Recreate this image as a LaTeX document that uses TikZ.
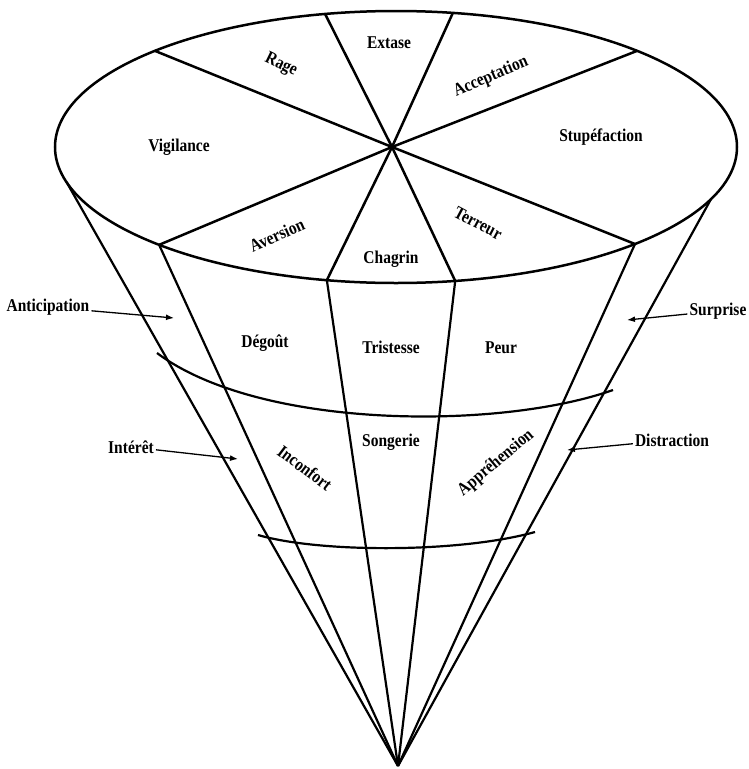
\documentclass[tikz,border=0pt]{standalone}
\usepackage{fontspec}
\setmainfont{Liberation Serif}[FakeStretch=0.86]
\usetikzlibrary{arrows.meta}
\begin{document}
\begin{tikzpicture}[x=1pt,y=-1pt]
  \tikzstyle{every node}=[font=\bfseries\fontsize{18}{18}\selectfont, inner sep=2pt]
  \tikzstyle{rim}=[line width=2.5pt]
  \tikzstyle{cone}=[line width=2.2pt]
  \tikzstyle{pointer}=[-{Latex[length=8pt,width=6pt]}, line width=1.3pt]
  \useasboundingbox (0,0) rectangle (748,769);

  % top of the cone
  \coordinate (o) at (396,147);
  \coordinate (m) at (392,147);
  \coordinate (apex) at (398,766);
  \foreach \n/\a in {ul/225,ur/315,ll/134,lr/45.5,tl/258,tr/279.6,bl/101.7,br/80,oleft/165,oright/22.5}
    \coordinate (\n) at ([shift={(o)}]\a:341 and 136);

  \draw[rim] (o) ellipse [x radius=341, y radius=136];
  \foreach \n in {ul,ur,ll,lr,tl,tr,bl,br}
    \draw[rim] (m) -- (\n);

  % sides and rings
  \foreach \n in {oleft,ll,bl,br,lr,oright}
    \draw[cone] (\n) -- (apex);
  \draw[cone] (157,353) .. controls (260,430) and (500,430) .. (613,390);
  \draw[cone] (258,535) .. controls (320,553) and (460,553) .. (535,532);

  % labels on the top
  \node (extase) at (389,43) {Extase};
  \node[rotate=-26] (rage) at (281,65) {Rage};
  \node[rotate=23] (accept) at (491,77) {Acceptation};
  \node (vigil) at (179,147) {Vigilance};
  \node (stupef) at (601,137) {Stupéfaction};
  \node[rotate=24] (avers) at (277,235) {Aversion};
  \node (chagrin) at (391,259) {Chagrin};
  \node[rotate=-28] (terreur) at (478,223) {Terreur};

  % labels on the sides
  \node (degout) at (265,343) {Dégoût};
  \node (trist) at (391,347) {Tristesse};
  \node (peur) at (501,348) {Peur};
  \node (songerie) at (391,442) {Songerie};
  \node[rotate=-37] (inconf) at (305,468) {Inconfort};
  \node[rotate=40] (apprehen) at (496,463) {Appréhension};

  % outside labels
  \node (antic) at (48,307) {Anticipation};
  \node (surpr) at (718,311) {Surprise};
  \node (interet) at (131,447) {Intérêt};
  \node (distr) at (672,440) {Distraction};
  \coordinate (pa) at (174,318);
  \coordinate (ps) at (627,320);
  \coordinate (pi) at (238,459);
  \coordinate (pd) at (567,450);

  \draw[pointer] (antic) -- (pa);
  \draw[pointer] (surpr) -- (ps);
  \draw[pointer] (interet) -- (pi);
  \draw[pointer] (distr) -- (pd);
\end{tikzpicture}
\end{document}
